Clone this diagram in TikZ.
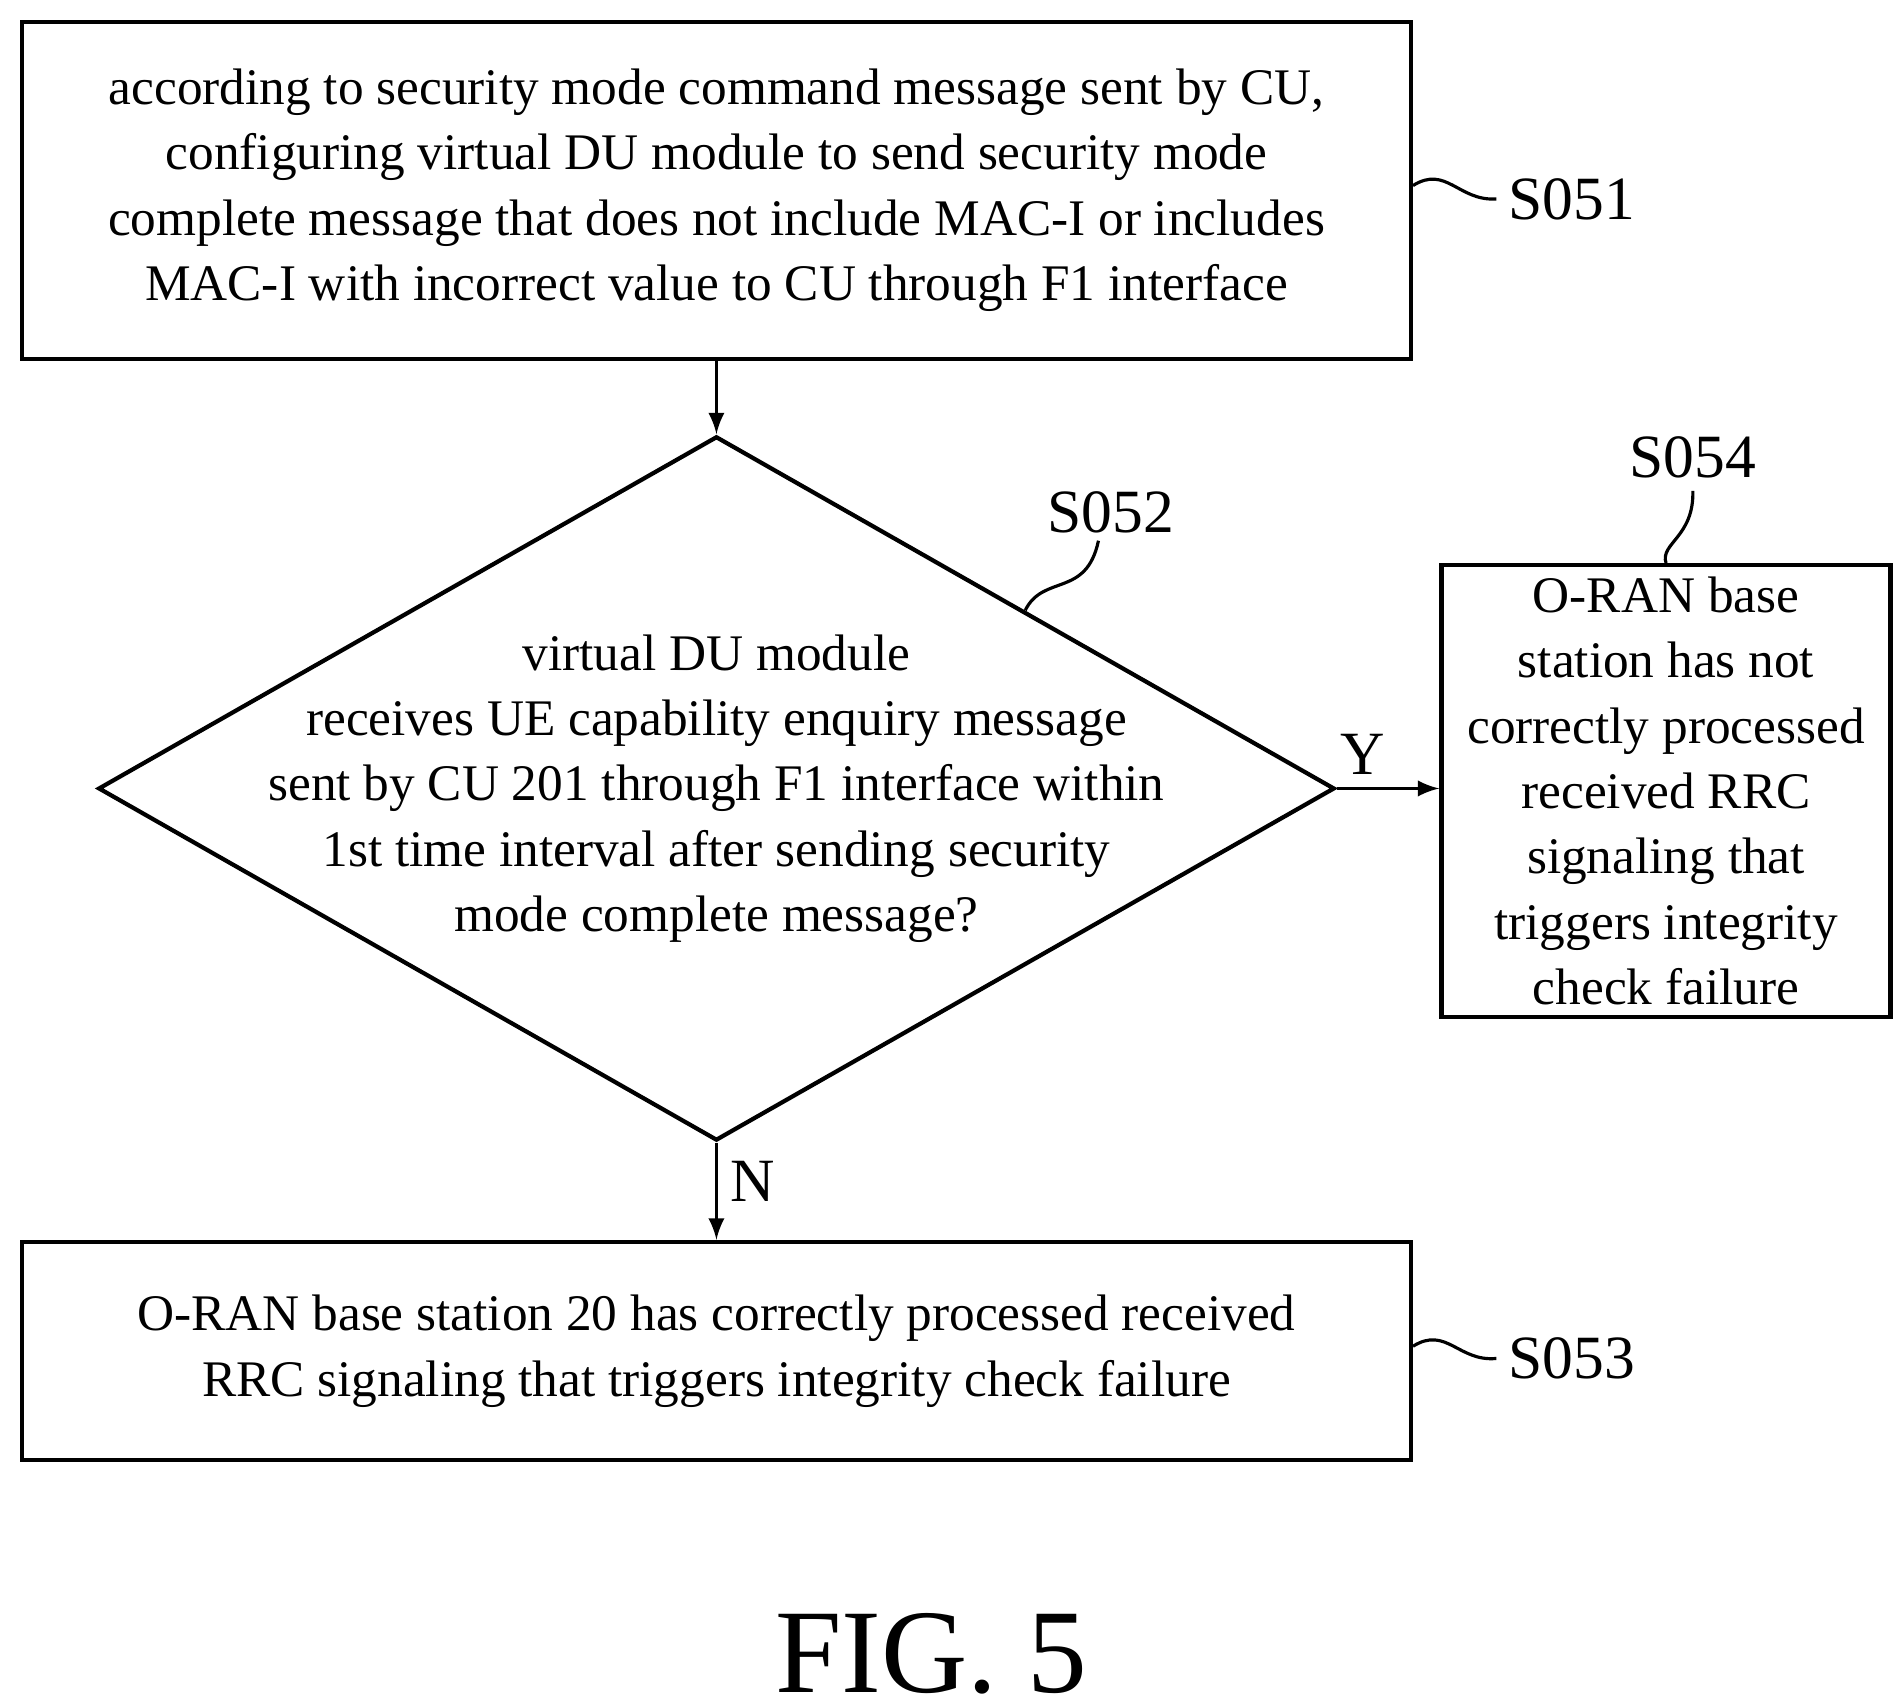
\documentclass[tikz,border=0pt]{standalone}
\usepackage{fontspec}
\setmainfont{Liberation Serif}
\usetikzlibrary{shapes.geometric,arrows,positioning}
\begin{document}
\begin{tikzpicture}[x=0.012205cm,y=-0.012205cm]
    \tikzset{
        box/.style = {rectangle, draw, line width=1.2pt, align=center, font=\fontsize{14.6}{18.6}\selectfont},
        line/.style = {draw, line width=1.1pt, -latex},
        tag/.style = {font=\fontsize{17.5}{20}\selectfont},
        tilde/.style = {draw, line width=0.9pt},
    }
    \useasboundingbox (0,0) rectangle (1560,1394);

    \node[box, minimum width=1138*0.012205cm, minimum height=276*0.012205cm](s051) at (587,156){according to security mode command message sent by CU,\\configuring virtual DU module to send security mode\\complete message that does not include MAC-I or includes\\MAC-I with incorrect value to CU through F1 interface};

    \node[diamond, draw, line width=1.2pt, inner sep=0pt, minimum width=1013*0.012205cm, minimum height=577*0.012205cm](s052) at (587,646){};
    \node[align=center, font=\fontsize{14.6}{18.6}\selectfont](q) at (587,646){virtual DU module\\receives UE capability enquiry message\\sent by CU 201 through F1 interface within\\1st time interval after sending security\\mode complete message?};

    \node[box, minimum width=368*0.012205cm, minimum height=357*0.012205cm](s054) at (1365,648){O-RAN base\\station has not\\correctly processed\\received RRC\\signaling that\\triggers integrity\\check failure};

    \node[box, minimum width=1138*0.012205cm, minimum height=179*0.012205cm](s053) at (587,1107){O-RAN base station 20 has correctly processed received\\RRC signaling that triggers integrity check failure};

    \node[font=\fontsize{34}{38}\selectfont](fig) at (763,1355){FIG. 5};

    % step labels
    \node[tag, anchor=west](l051) at (1226,163){S051};
    \node[tag](l052) at (910,420){S052};
    \node[tag](l054) at (1387,375){S054};
    \node[tag, anchor=west](l053) at (1226,1113){S053};
    \draw[tilde] (s051.east |- 0,152) .. controls (1185,135) and (1195,165) .. (l051.west);
    \draw[tilde] (s053.east |- 0,1103) .. controls (1185,1086) and (1195,1116) .. (l053.west);
    \draw[tilde] (840,500) .. controls (855,470) and (890,490) .. (900,443);
    \draw[tilde] (s054.north) .. controls (1360,445) and (1388,440) .. (l054.south);

    \path [line] (s051) -- (s052.north);
    \path [line] (s052.east) -- node[above, tag, pos=0.25]{Y} (s054.west |- s052.east);
    \path [line] (s052.south) -- node[right, tag, pos=0.4]{N} (s053);
\end{tikzpicture}
\end{document}
